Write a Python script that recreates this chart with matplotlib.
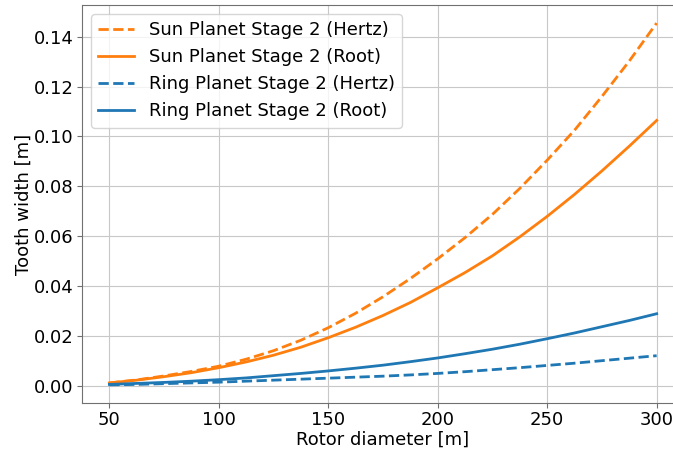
import matplotlib
matplotlib.use('Agg')
import matplotlib.pyplot as plt
import numpy as np

# Rotor diameter [m]
rotor_diameter = [50, 62.5, 75, 87.5, 100, 112.5, 125, 137.5, 150, 162.5, 175,
                  187.5, 200, 212.5, 225, 237.5, 250, 262.5, 275, 287.5, 300]

# Tooth width [m]
sun_hertz = [0.0013, 0.0025, 0.0041, 0.0059, 0.0080, 0.0108, 0.0142, 0.0184, 0.0234, 0.0292, 0.0358,
             0.0431, 0.0510, 0.0595, 0.0688, 0.0792, 0.0905, 0.1025, 0.1160, 0.1302, 0.1454]
sun_root = [0.0013, 0.0024, 0.0038, 0.0054, 0.0074, 0.0097, 0.0124, 0.0156, 0.0194, 0.0236, 0.0283,
            0.0335, 0.0394, 0.0455, 0.0522, 0.0598, 0.0680, 0.0768, 0.0862, 0.0961, 0.1064]
ring_hertz = [0.0005, 0.0007, 0.0010, 0.0013, 0.0016, 0.0020, 0.0024, 0.0028, 0.0032, 0.0036, 0.0040,
              0.0045, 0.0051, 0.0058, 0.0066, 0.0074, 0.0083, 0.0092, 0.0102, 0.0112, 0.0122]
ring_root = [0.0007, 0.0011, 0.0015, 0.0020, 0.0026, 0.0033, 0.0042, 0.0051, 0.0061, 0.0072, 0.0084,
             0.0098, 0.0113, 0.0130, 0.0148, 0.0168, 0.0190, 0.0213, 0.0238, 0.0263, 0.0290]

ORANGE = '#ff7f0e'
BLUE = '#1f77b4'

plt.rcParams['font.size'] = 13

fig = plt.figure(figsize=(6.73, 4.55), dpi=100)
ax = fig.add_axes([82 / 673, 52 / 455, 602 / 673, 398 / 455])

ax.plot(rotor_diameter, sun_hertz, '--', color=ORANGE, lw=2, label='Sun Planet Stage 2 (Hertz)')
ax.plot(rotor_diameter, sun_root, '-', color=ORANGE, lw=2, label='Sun Planet Stage 2 (Root)')
ax.plot(rotor_diameter, ring_hertz, '--', color=BLUE, lw=2, label='Ring Planet Stage 2 (Hertz)')
ax.plot(rotor_diameter, ring_root, '-', color=BLUE, lw=2, label='Ring Planet Stage 2 (Root)')

ax.set_xticks([50, 100, 150, 200, 250, 300])
ax.set_yticks(np.arange(0, 0.141, 0.02))
ax.grid(True, color='#c8c8c8', lw=0.8)
for s in ax.spines.values():
    s.set_color('#707070')
ax.tick_params(color='#707070', pad=2.5)

ax.set_xlabel('Rotor diameter [m]', labelpad=1)
ax.set_ylabel('Tooth width [m]', labelpad=1)
ax.legend(loc='upper left')

fig.savefig('out.png', dpi=100)
